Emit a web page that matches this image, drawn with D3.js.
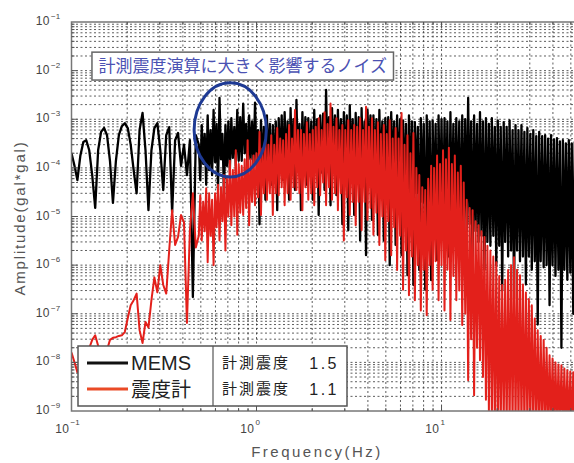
<!DOCTYPE html>
<html>
<head>
<meta charset="utf-8">
<script src="https://cdn.jsdelivr.net/npm/d3@7"></script>
<style>
body { margin: 0; background: #fff; }
text { font-family: "Liberation Sans", Arial, sans-serif; }
.jp { font-family: "Noto Sans CJK JP", sans-serif; }
</style>
</head>
<body>
<script>
// frequency bins (Hz), shared by both sensors
var freq = [
  0.1,0.1038,0.1076,0.1117,0.1159,0.1202,0.1247,0.1294,0.1343,0.1393,
  0.1445,0.15,0.1556,0.1614,0.1675,0.1738,0.1803,0.1871,0.1941,0.2014,
  0.2089,0.2168,0.2249,0.2333,0.2421,0.2512,0.2606,0.2704,0.2805,0.2911,
  0.302,0.3133,0.3251,0.3373,0.3499,0.3631,0.3767,0.3908,0.4055,0.4207,
  0.4365,0.4529,0.4699,
  0.4875,0.4966,0.5058,0.5152,0.5248,0.5346,0.5445,0.5546,0.5649,0.5754,
  0.5861,0.597,0.6081,0.6194,0.631,0.6427,0.6546,0.6668,0.6792,0.6918,
  0.7047,0.7178,0.7311,0.7447,0.7586,0.7727,0.787,0.8017,0.8166,0.8318,
  0.8472,0.863,0.879,0.8954,0.912,0.929,0.9462,0.9638,0.9817,1.0,
  1.019,1.038,1.057,1.076,1.096,1.117,1.138,1.159,1.18,1.202,
  1.225,1.247,1.271,1.294,1.318,1.343,1.368,1.393,1.419,1.445,
  1.472,1.5,1.528,1.556,1.585,1.614,1.644,1.675,1.706,1.738,
  1.77,1.803,1.837,1.871,1.905,1.941,1.977,2.014,2.051,2.089,
  2.128,2.168,2.208,2.249,2.291,2.333,2.377,2.421,2.466,2.512,
  2.559,2.606,2.655,2.704,2.754,2.805,2.858,2.911,2.965,3.02,
  3.076,3.133,3.192,3.251,3.311,3.373,3.436,3.499,3.565,3.631,
  3.698,3.767,3.837,3.908,3.981,4.055,4.13,4.207,4.285,4.365,
  4.446,4.529,4.613,4.699,4.786,4.875,4.966,5.058,5.152,5.248,
  5.346,5.445,5.546,5.649,5.754,5.861,5.97,6.081,6.194,6.31,
  6.427,6.546,6.668,6.792,6.918,7.047,7.178,7.311,7.447,7.586,
  7.727,7.87,8.017,8.166,8.318,8.472,8.63,8.79,8.954,9.12,
  9.29,9.462,9.638,9.817,10,10.19,10.38,10.57,10.76,10.96,
  11.17,11.38,11.59,11.8,12.02,12.25,12.47,12.71,12.94,13.18,
  13.43,13.68,13.93,14.19,14.45,14.72,15,15.28,15.56,15.85,
  16.14,16.44,16.75,17.06,17.38,17.7,18.03,18.37,18.71,19.05,
  19.41,19.77,20.14,20.51,20.89,21.28,21.68,22.08,22.49,22.91,
  23.33,23.77,24.21,24.66,25.12,25.59,26.06,26.55,27.04,27.54,
  28.05,28.58,29.11,29.65,30.2,30.76,31.33,31.92,32.51,33.11,
  33.73,34.36,34.99,35.65,36.31,36.98,37.67,38.37,39.08,39.81,
  40.55,41.3,42.07,42.85,43.65,44.46,45.29,46.13,46.99,47.86,
  48.75,49.66,50.58,51.52,52.48
];

// MEMS amplitude (gal*gal)
var memsAmp = [
  2.0e-4,1.1e-4,5.6e-5,1.8e-4,3.4e-4,3.7e-4,2.3e-4,7.1e-5,1.5e-5,2.3e-4,
  5.5e-4,6.6e-4,4.7e-4,1.4e-4,1.9e-5,1.4e-4,4.7e-4,7.2e-4,8.3e-4,6.6e-4,
  3.0e-4,8.9e-5,3.0e-5,6.0e-4,1.35e-3,2.3e-4,1.35e-5,2.3e-4,6.6e-4,8.3e-4,
  2.3e-4,3.5e-5,4.7e-4,6.9e-4,1.2e-5,3.7e-4,5.2e-4,1.1e-4,3.0e-4,7.1e-5,
  3.7e-4,2.2e-7,4.7e-4,
  3.0e-4,5.6e-5,7.6e-4,1.2e-4,5.0e-4,4.5e-5,1.2e-3,9e-5,6e-4,7.1e-5,
  1.55e-3,1.3e-4,8e-4,3.5e-5,2.75e-3,1.5e-4,5e-4,2.75e-5,7.6e-4,1.1e-4,
  9e-4,8.9e-5,1.05e-3,1.6e-4,7e-4,1.1e-4,1.55e-3,1.4e-4,1.1e-3,1.4e-4,
  2.1e-3,2e-4,8e-4,7.1e-5,1.2e-3,1.5e-4,9e-4,1.1e-4,2.2e-3,1.2e-4,
  6e-4,6.9e-6,9.5e-4,8e-5,7e-4,2.2e-5,1.2e-3,1e-4,8e-4,4.5e-5,
  7.6e-4,6e-5,9e-4,1.35e-5,1.05e-3,1e-4,1.2e-3,5.6e-5,1.4e-3,8e-5,
  9e-4,2.2e-5,1.7e-3,1.2e-4,1e-3,3.5e-5,2.5e-3,9e-5,8e-4,1.35e-5,
  1.4e-3,1e-4,1.1e-3,4.5e-5,1.05e-3,7e-5,9e-4,2.2e-5,1.55e-3,1e-4,
  1e-3,1.07e-5,1.2e-3,8e-5,1.3e-3,3.5e-5,4.0e-3,1.1e-4,1.1e-3,1.7e-5,
  1.7e-3,9e-5,1.2e-3,2.75e-5,1.55e-3,1e-4,1e-3,6.9e-6,1.4e-3,7e-5,
  1.2e-3,5.2e-6,1.95e-3,8e-5,1e-3,1.07e-5,1.35e-3,6e-5,1.1e-3,3.2e-6,
  1.7e-3,7e-5,9e-4,1.6e-6,1.55e-3,8e-5,1.2e-3,8.5e-6,1.2e-3,6e-5,
  1e-3,4.2e-6,1.55e-3,5e-5,9e-4,3.2e-6,1.05e-3,6e-5,1.1e-3,1.0e-6,
  1.4e-3,5e-5,9e-4,2.6e-6,1.2e-3,4e-5,1e-3,1.6e-6,9.5e-4,3e-5,
  8e-4,6.2e-7,1.2e-3,2e-5,9e-4,3.9e-7,8.7e-4,3e-5,7e-4,7.9e-7,
  1.05e-3,2e-5,8e-4,3.1e-7,1.2e-3,1.5e-5,9e-4,4.9e-7,9.5e-4,1e-5,
  8e-4,1.26e-6,1.2e-3,8e-6,1e-3,4.0e-6,1.05e-3,1e-5,9e-4,1.5e-6,
  1.4e-3,6e-6,8e-4,6.0e-6,1.05e-3,8e-6,9e-4,2.0e-6,1.2e-3,5e-6,
  1e-3,5.0e-6,2.75e-3,7e-6,9e-4,1.2e-6,1.2e-3,5e-6,8e-4,3.0e-6,
  1.4e-3,4e-6,9e-4,8.0e-7,1.05e-3,3e-6,8e-4,2.5e-6,1.05e-3,4e-6,
  7e-4,1.0e-6,9.5e-4,2.5e-6,7e-4,3.0e-7,8.7e-4,3e-6,7e-4,1.5e-6,
  9.5e-4,2e-6,6e-4,2.0e-7,7.6e-4,2e-6,6e-4,1.2e-6,7.6e-4,1.5e-6,
  5.5e-4,4.0e-7,6.6e-4,1.5e-6,5e-4,8.0e-7,6.0e-4,1.2e-6,4.5e-4,6.0e-8,
  5.5e-4,1.2e-6,4.5e-4,9.0e-7,4.7e-4,1e-6,4e-4,1.5e-7,4.7e-4,1e-6,
  3.8e-4,6.0e-7,4.1e-4,8e-7,3.5e-4,2.0e-8,3.7e-4,8e-7,3.2e-4,5.0e-7,
  3.7e-4,7e-7,3.2e-4,1.0e-7,3.5e-4
];

// seismic intensity meter (震度計) amplitude
var shindoAmp = [
  1.6e-8,1.0e-8,6.3e-9,7.6e-9,1.0e-8,1.4e-8,1.95e-8,2.9e-8,3.6e-8,2.2e-8,
  1.6e-8,1.35e-8,1.8e-8,2.9e-8,3.2e-8,3.3e-8,3.5e-8,3.6e-8,4.2e-8,8.1e-8,
  1.5e-7,1.9e-7,2.6e-7,4.6e-8,2.5e-8,6.8e-8,5.2e-8,1.9e-7,5.6e-7,2.75e-7,
  1.0e-6,3.9e-7,2.6e-7,2.0e-6,1.35e-5,2.6e-6,3.8e-6,1.07e-5,7.6e-6,6.5e-8,
  5.2e-6,3.0e-5,2.3e-6,
  4e-6,2.75e-5,3.2e-6,2e-5,5e-6,3.8e-5,1.15e-6,3e-5,4e-6,2.2e-5,
  1.0e-6,3e-5,6e-6,4.5e-5,3.2e-6,4e-5,8e-6,7.1e-5,2.0e-6,6e-5,
  1e-5,1.4e-4,6.6e-6,9e-5,1e-5,2.3e-4,4.2e-6,1.2e-4,1.2e-5,1.1e-4,
  1.07e-5,1.5e-4,1.5e-5,3.7e-4,6.6e-6,1.5e-4,2e-5,1.8e-4,1.7e-5,2e-4,
  2.5e-5,5.5e-4,1.07e-5,2.5e-4,3e-5,3.7e-4,2.2e-5,3e-4,3e-5,4.7e-4,
  1.07e-5,3e-4,3e-5,6.6e-4,2.75e-5,4e-4,4e-5,3.7e-4,1.7e-5,5e-4,
  3e-5,7.6e-4,2.2e-5,4e-4,4e-5,1.55e-3,3.5e-5,6e-4,3e-5,6.0e-4,
  1.35e-5,5e-4,4e-5,8.7e-4,2.2e-5,5e-4,3e-5,6.0e-4,1.7e-5,7e-4,
  4e-5,1.05e-3,2.75e-5,6e-4,5e-5,1.4e-3,1.7e-5,8e-4,4e-5,2.1e-3,
  2.2e-5,7e-4,3e-5,1.05e-3,1.35e-5,6e-4,3e-5,7.6e-4,3.2e-6,6e-4,
  2.5e-5,9.5e-4,1.07e-5,6e-4,2e-5,7.6e-4,6.6e-6,7e-4,2e-5,1.05e-3,
  5.2e-6,6e-4,2e-5,1.8e-3,8.5e-6,7e-4,1.5e-5,1.05e-3,4.2e-6,6e-4,
  1.2e-5,8.7e-4,2.6e-6,5e-4,1e-5,7.6e-4,1.26e-6,5e-4,8e-6,9.5e-4,
  1.6e-6,4e-4,6e-6,6.6e-4,7.9e-7,4e-4,4e-6,1.35e-3,3.1e-7,3e-4,
  2e-6,4.7e-4,2.4e-7,2e-4,1.5e-6,5.2e-4,1.9e-7,1e-4,1e-6,7.1e-5,
  1.17e-7,4e-5,8e-7,3.5e-5,9.3e-8,6e-5,1e-6,1.1e-4,3.1e-7,1e-4,
  1.2e-6,1.8e-4,1.9e-7,1.2e-4,1e-6,2.3e-4,1.17e-7,1.5e-4,8e-7,2.6e-4,
  7.4e-8,1.2e-4,6e-7,1.8e-4,1.9e-7,8e-5,3e-7,1.1e-4,5.9e-8,5e-5,
  1e-7,2.2e-5,4.3e-9,1.5e-5,3e-8,1.35e-5,2.1e-9,8e-6,2e-8,6.6e-6,
  1.1e-8,5e-6,5e-9,3.8e-6,1.7e-9,2.5e-6,1e-9,2.0e-6,6.3e-10,1.5e-6,
  5e-10,1.15e-6,4e-10,6e-7,4e-10,3.9e-7,5e-10,5e-7,4e-10,7.9e-7,
  4e-10,1e-6,4e-10,1.45e-6,4e-10,8e-7,4e-10,6.2e-7,4e-10,4e-7,
  4e-10,2.75e-7,4e-10,2e-7,4e-10,1.5e-7,4e-10,8e-8,4e-10,4.6e-8,
  4e-10,3.5e-8,4e-10,2.9e-8,4e-10,2e-8,4e-10,1.4e-8,4e-10,1.2e-8,
  4e-10,1.0e-8,4e-10,9e-9,4e-10,8.7e-9,4e-10,7.5e-9,4e-10,6.9e-9,
  4e-10,6.5e-9,4e-10,6.3e-9,4e-10
];

var seriesNames = ["MEMS", "震度計"];
var seriesColors = ["#000000", "#e3201b"];
var legendColors = ["#111111", "#ea4a26"];
var intensityLabel = "計測震度";
var intensityValues = ["1.5", "1.1"];
var xTickExps = [-1, 0, 1];
var yTickExps = [-9, -8, -7, -6, -5, -4, -3, -2, -1];
var noteText = "計測震度演算に大きく影響するノイズ";
// annotation box and circled region, in data units
var noteFreq = [0.129, 5.5];
var noteAmp = [6.4e-3, 0.024];
var noiseFreq = [0.46, 1.13];
var noiseAmp = [6.5e-5, 5.6e-3];

var width = 574, height = 463;
var plotLeft = 71.5, plotTop = 22, plotBottom = 411, plotRight = 578.5;

var svg = d3.select("body").append("svg")
    .attr("width", width)
    .attr("height", height);

var x = d3.scaleLog().domain([0.1, 55]).range([plotLeft, plotRight]);
var y = d3.scaleLog().domain([1e-9, 1e-1]).range([plotBottom, plotTop]);

svg.append("defs").append("clipPath").attr("id", "plotClip")
    .append("rect")
    .attr("x", plotLeft).attr("y", plotTop)
    .attr("width", plotRight - plotLeft).attr("height", plotBottom - plotTop);

// grid values, all decades with minor steps
var xGrid = [];
xTickExps.forEach(function (e) {
    for (var m = 1; m <= 9; m++) {
        var v = m * Math.pow(10, e);
        if (v > 0.1 && v < 55) xGrid.push(v);
    }
});
var yGrid = [];
yTickExps.forEach(function (e) {
    for (var m = 1; m <= 9; m++) {
        var v = m * Math.pow(10, e);
        if (v > 1e-9 && v < 1e-1) yGrid.push(v);
    }
});

var grid = svg.append("g").attr("clip-path", "url(#plotClip)");
grid.selectAll(".vg").data(xGrid).enter().append("line")
    .attr("class", "vg")
    .attr("x1", function (d) { return x(d); }).attr("x2", function (d) { return x(d); })
    .attr("y1", plotTop).attr("y2", plotBottom)
    .attr("stroke", "#333").attr("stroke-width", 0.8)
    .attr("stroke-dasharray", "2,2.5");
grid.selectAll(".hg").data(yGrid).enter().append("line")
    .attr("class", "hg")
    .attr("y1", function (d) { return y(d); }).attr("y2", function (d) { return y(d); })
    .attr("x1", plotLeft).attr("x2", plotRight)
    .attr("stroke", "#333").attr("stroke-width", 0.8)
    .attr("stroke-dasharray", "2,2.5");

// spectra
var line = d3.line()
    .x(function (d) { return x(d[0]); })
    .y(function (d) { return y(d[1]); });

var plot = svg.append("g").attr("clip-path", "url(#plotClip)");
[memsAmp, shindoAmp].forEach(function (amp, i) {
    plot.append("path")
        .datum(d3.zip(freq, amp))
        .attr("fill", "none")
        .attr("stroke", seriesColors[i])
        .attr("stroke-width", i === 0 ? 2.3 : 2)
        .attr("stroke-linejoin", "round")
        .attr("d", line);
});

// frame + ticks
svg.append("rect")
    .attr("x", plotLeft).attr("y", plotTop)
    .attr("width", plotRight - plotLeft).attr("height", plotBottom - plotTop)
    .attr("fill", "none").attr("stroke", "#777").attr("stroke-width", 1.5);

var ticks = svg.append("g").attr("stroke", "#555").attr("stroke-width", 1);
xGrid.forEach(function (v) {
    var major = Math.abs(Math.log10(v) - Math.round(Math.log10(v))) < 1e-9;
    var len = major ? 6 : 3;
    ticks.append("line").attr("x1", x(v)).attr("x2", x(v))
        .attr("y1", plotBottom).attr("y2", plotBottom - len);
    ticks.append("line").attr("x1", x(v)).attr("x2", x(v))
        .attr("y1", plotTop).attr("y2", plotTop + len);
});
yGrid.forEach(function (v) {
    var major = Math.abs(Math.log10(v) - Math.round(Math.log10(v))) < 1e-9;
    var len = major ? 6 : 3;
    ticks.append("line").attr("y1", y(v)).attr("y2", y(v))
        .attr("x1", plotLeft).attr("x2", plotLeft + len);
});

// tick labels 10^n
var yLab = svg.append("g").attr("fill", "#444");
yTickExps.forEach(function (e) {
    yLab.append("text")
        .attr("x", 50).attr("y", y(Math.pow(10, e)) + 3)
        .attr("font-size", 12).attr("letter-spacing", 0.5)
        .attr("text-anchor", "end").text("10");
    yLab.append("text")
        .attr("x", 51).attr("y", y(Math.pow(10, e)) - 3)
        .attr("font-size", 8)
        .text(String(e).replace("-", "−"));
});
var xLab = svg.append("g").attr("fill", "#444");
xTickExps.forEach(function (e) {
    var px = x(Math.pow(10, e));
    xLab.append("text")
        .attr("x", px - 2).attr("y", 433)
        .attr("font-size", 12).attr("letter-spacing", 0.5)
        .attr("text-anchor", "end").text("10");
    xLab.append("text")
        .attr("x", px - 1).attr("y", 425)
        .attr("font-size", 8)
        .text(String(e).replace("-", "−"));
});

// axis titles
svg.append("text")
    .attr("x", 317).attr("y", 457)
    .attr("text-anchor", "middle")
    .attr("font-size", 15).attr("letter-spacing", 2.5)
    .attr("fill", "#555")
    .text("Frequency(Hz)");
svg.append("text")
    .attr("transform", "translate(25,218) rotate(-90)")
    .attr("text-anchor", "middle")
    .attr("font-size", 15).attr("letter-spacing", 1.8)
    .attr("fill", "#555")
    .text("Amplitude(gal*gal)");

// annotation
svg.append("rect")
    .attr("x", x(noteFreq[0])).attr("y", y(noteAmp[1]))
    .attr("width", x(noteFreq[1]) - x(noteFreq[0]))
    .attr("height", y(noteAmp[0]) - y(noteAmp[1]))
    .attr("fill", "#fff").attr("stroke", "#666").attr("stroke-width", 1.5);
svg.append("text")
    .attr("class", "jp")
    .attr("x", (x(noteFreq[0]) + x(noteFreq[1])) / 2)
    .attr("y", (y(noteAmp[0]) + y(noteAmp[1])) / 2 + 6)
    .attr("text-anchor", "middle")
    .attr("font-size", 17)
    .attr("fill", "#4b52b3")
    .text(noteText);

svg.append("ellipse")
    .attr("cx", (x(noiseFreq[0]) + x(noiseFreq[1])) / 2)
    .attr("cy", (y(noiseAmp[0]) + y(noiseAmp[1])) / 2)
    .attr("rx", (x(noiseFreq[1]) - x(noiseFreq[0])) / 2)
    .attr("ry", (y(noiseAmp[0]) - y(noiseAmp[1])) / 2)
    .attr("fill", "none").attr("stroke", "#1e3a94").attr("stroke-width", 3);

// legend
var legend = svg.append("g").attr("transform", "translate(78,346)");
legend.append("rect")
    .attr("width", 269).attr("height", 60)
    .attr("fill", "#fff").attr("stroke", "#555").attr("stroke-width", 1.5);
legend.append("line")
    .attr("x1", 135).attr("x2", 135).attr("y1", 0).attr("y2", 60)
    .attr("stroke", "#555").attr("stroke-width", 1.2);
seriesNames.forEach(function (name, i) {
    var cy = 17 + i * 26;
    legend.append("line")
        .attr("x1", 9).attr("x2", 50).attr("y1", cy).attr("y2", cy)
        .attr("stroke", legendColors[i]).attr("stroke-width", 3);
    legend.append("text")
        .attr("class", i === 1 ? "jp" : null)
        .attr("x", 53).attr("y", cy + (i === 1 ? 8 : 7))
        .attr("font-size", 20)
        .attr("fill", "#222")
        .text(name);
    legend.append("text")
        .attr("class", "jp")
        .attr("x", 144).attr("y", cy + 5)
        .attr("font-size", 15).attr("letter-spacing", 2)
        .attr("fill", "#222")
        .text(intensityLabel);
    legend.append("text")
        .attr("x", 261).attr("y", cy + 6)
        .attr("text-anchor", "end")
        .attr("font-size", 16).attr("letter-spacing", 2.5)
        .attr("fill", "#222")
        .text(intensityValues[i]);
});
</script>
</body>
</html>
